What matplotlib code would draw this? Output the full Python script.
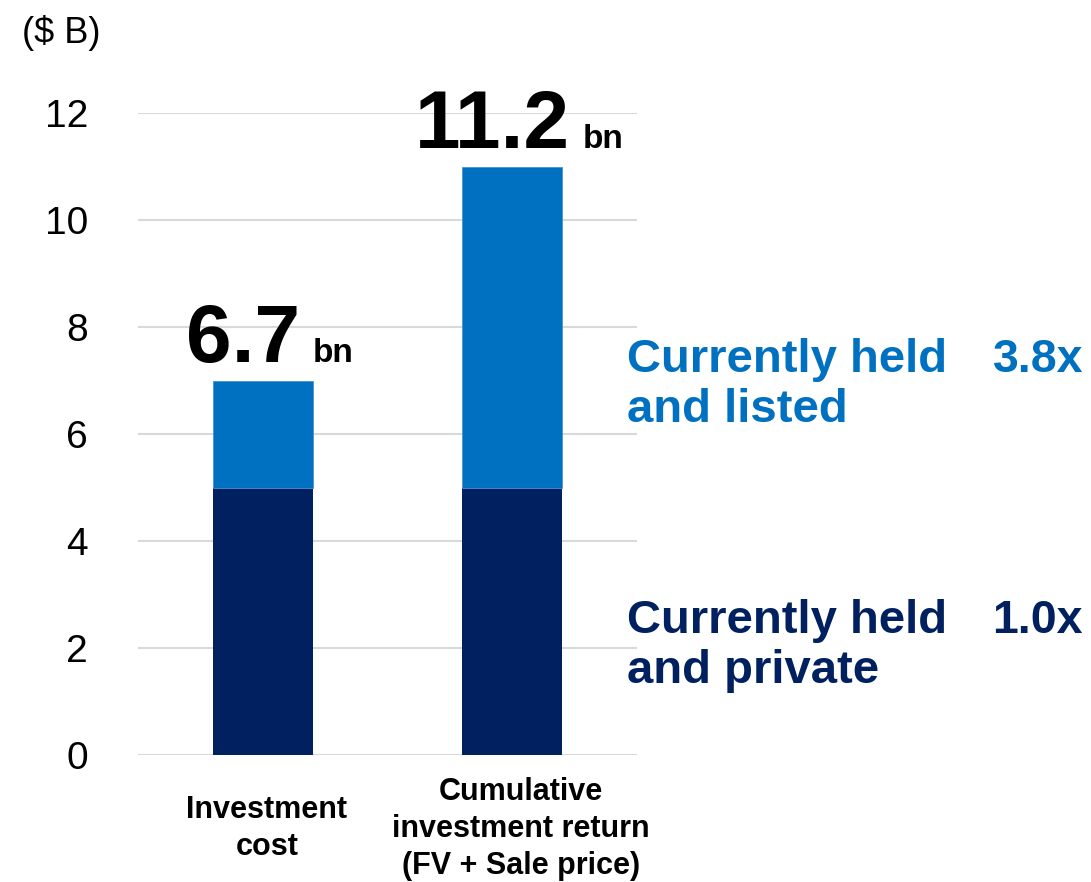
import matplotlib
matplotlib.use("Agg")
import matplotlib.pyplot as plt
from matplotlib.transforms import ScaledTranslation

plt.rcParams['font.family'] = ['Liberation Sans', 'DejaVu Sans']

# data
categories = ["Investment\ncost", "Cumulative\ninvestment return\n(FV + Sale price)"]
private_vals = [5.0, 5.0]
listed_vals = [2.0, 6.0]
total_labels = ["6.7", "11.2"]
seg_names = ["Currently held\nand listed", "Currently held\nand private"]
multiples = ["3.8x", "1.0x"]

DARK = "#002060"
LIGHT = "#0070C0"
GRID = "#D9D9D9"

fig = plt.figure(figsize=(10.91, 8.82), dpi=100)
ax = fig.add_axes([138/1091, 1 - 755/882, (637-138)/1091, (755-113)/882])

x = list(range(len(categories)))
ax.bar(x, private_vals, width=0.4, color=DARK, zorder=3)
ax.bar(x, listed_vals, width=0.4, bottom=private_vals, color=LIGHT, zorder=3,
       edgecolor="#4a90d0", linewidth=0.6)

ax.set_xlim(-0.5, 1.5)
ax.set_ylim(0, 12)
ax.set_yticks(range(0, 13, 2))
ax.tick_params(axis='y', length=0, pad=36, labelsize=28)
ax.grid(axis='y', color=GRID, linewidth=1.5, zorder=0)
for s in ax.spines.values():
    s.set_visible(False)

ax.set_xticks(x)
ax.set_xticklabels(categories, fontsize=22, fontweight='bold', linespacing=1.3)
ax.tick_params(axis='x', length=0, pad=53)
shifts = [4, 9]  # px nudges to the right
for lab, sh in zip(ax.get_xticklabels(), shifts):
    lab.set_verticalalignment('center')
    lab.set_multialignment('center')
    lab.set_transform(lab.get_transform() + ScaledTranslation(sh / fig.dpi, 0, fig.dpi_scale_trans))

fig.text(22/1091, 1 - 33/882, "($ B)", fontsize=26, va='center', ha='left')

# totals above bars: big number + "bn"
fig.canvas.draw()
r = fig.canvas.get_renderer()
tops = [p + l for p, l in zip(private_vals, listed_vals)]
for xi, top, lab in zip(x, tops, total_labels):
    num = ax.annotate(lab, (xi, top), xytext=(0, 13), textcoords='offset points',
                      fontsize=59, fontweight='bold', ha='left', va='baseline')
    bn = ax.annotate("bn", (xi, top), xytext=(0, 13), textcoords='offset points',
                     fontsize=24, fontweight='bold', ha='left', va='baseline')
    wn = num.get_window_extent(r).width
    wb = bn.get_window_extent(r).width
    gap = 13
    total = wn + gap + wb
    start = 7 - total / 2  # pixels relative to bar centre
    num.set_position((start * 72 / fig.dpi, 13))
    bn.set_position(((start + wn + gap) * 72 / fig.dpi, 13))

# segment labels on the right
seg_y = [1 - 338/882, 1 - 599/882]
seg_col = [LIGHT, DARK]
for name, mult, yy, c in zip(seg_names, multiples, seg_y, seg_col):
    fig.text(627/1091, yy, name, fontsize=34, fontweight='bold', color=c,
             ha='left', va='top', linespacing=1.18)
    fig.text(1083/1091, yy, mult, fontsize=33.5, fontweight='bold', color=c,
             ha='right', va='top')

fig.savefig("out.png", dpi=100)
